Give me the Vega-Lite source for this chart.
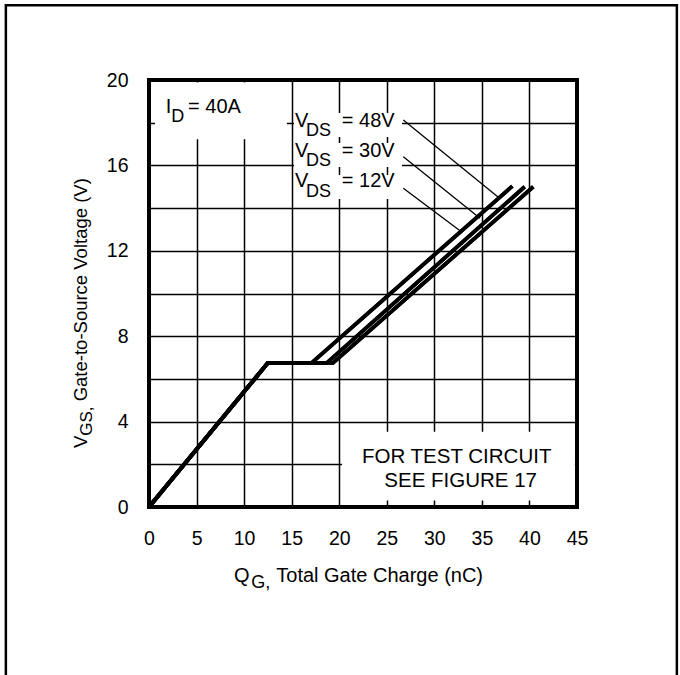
{
  "$schema": "https://vega.github.io/schema/vega-lite/v6.json",
  "width": 428,
  "height": 427,
  "autosize": {"type": "none"},
  "padding": {"left": 149, "top": 80, "right": 103, "bottom": 168},
  "background": "white",
  "config": {
    "view": {"stroke": "black", "strokeWidth": 4},
    "font": "Liberation Sans",
    "text": {"font": "Liberation Sans", "color": "black"}
  },
  "datasets": {
    "curves": [
      {"series": "48V", "q": 0, "v": 0}, {"series": "48V", "q": 12.5, "v": 6.75}, {"series": "48V", "q": 17.1, "v": 6.75}, {"series": "48V", "q": 38.2, "v": 15.03},
      {"series": "30V", "q": 0, "v": 0}, {"series": "30V", "q": 12.5, "v": 6.75}, {"series": "30V", "q": 18.7, "v": 6.75}, {"series": "30V", "q": 39.5, "v": 15.0},
      {"series": "12V", "q": 0, "v": 0}, {"series": "12V", "q": 12.5, "v": 6.75}, {"series": "12V", "q": 19.35, "v": 6.75}, {"series": "12V", "q": 40.4, "v": 15.0}
    ],
    "leaders": [
      {"series": "48V", "q": 26.74, "v": 18.13, "q2": 36.73, "v2": 14.51},
      {"series": "30V", "q": 26.74, "v": 16.41, "q2": 34.8, "v2": 13.52},
      {"series": "12V", "q": 26.74, "v": 14.93, "q2": 32.7, "v2": 12.94}
    ],
    "masks": [
      {"name": "id", "q": 0.63, "q2": 14.5, "v": 17.22, "v2": 19.88},
      {"name": "vds48", "q": 15.25, "q2": 26.6, "v": 17.33, "v2": 18.45},
      {"name": "vds30", "q": 15.25, "q2": 26.6, "v": 15.93, "v2": 17.05},
      {"name": "vds12", "q": 15.25, "q2": 26.6, "v": 14.43, "v2": 15.55},
      {"name": "circuit", "q": 20.3, "q2": 44.77, "v": 0.3, "v2": 3.53}
    ],
    "frame": [
      {"q": -15.05, "q2": 55.5, "v": 23.5, "v2": -8.5}
    ],
    "texts": [
      {"kind": "main", "t": "I", "q": 1.75, "v": 18.44},
      {"kind": "main", "t": "= 40A", "q": 4.11, "v": 18.44},
      {"kind": "main", "t": "V", "q": 15.35, "v": 17.81},
      {"kind": "main", "t": "= 48V", "q": 20.27, "v": 17.81},
      {"kind": "main", "t": "V", "q": 15.35, "v": 16.41},
      {"kind": "main", "t": "= 30V", "q": 20.27, "v": 16.41},
      {"kind": "main", "t": "V", "q": 15.35, "v": 14.97},
      {"kind": "main", "t": "= 12V", "q": 20.27, "v": 14.97},
      {"kind": "main", "t": "Q", "q": 8.94, "v": -3.5},
      {"kind": "main", "t": "Total Gate Charge (nC)", "q": 13.38, "v": -3.5},
      {"kind": "sub", "t": "D", "q": 2.34, "v": 18.05},
      {"kind": "sub", "t": "DS", "q": 16.5, "v": 17.38},
      {"kind": "sub", "t": "DS", "q": 16.5, "v": 15.97},
      {"kind": "sub", "t": "DS", "q": 16.5, "v": 14.53},
      {"kind": "sub", "t": "G,", "q": 10.75, "v": -3.81},
      {"kind": "center", "t": "FOR TEST CIRCUIT", "q": 32.35, "v": 2.05},
      {"kind": "center", "t": "SEE FIGURE 17", "q": 32.77, "v": 0.95},
      {"kind": "vmain", "t": "V", "q": -6.52, "v": 2.76},
      {"kind": "vmain", "t": "Gate-to-Source Voltage (V)", "q": -6.52, "v": 4.95},
      {"kind": "vsub", "t": "GS,", "q": -5.99, "v": 3.34}
    ]
  },
  "layer": [
    {
      "data": {"name": "curves"},
      "mark": {"type": "line", "color": "black", "strokeWidth": 3.8, "strokeCap": "butt", "strokeJoin": "miter"},
      "encoding": {
        "x": {
          "field": "q", "type": "quantitative",
          "scale": {"domain": [0, 45], "nice": false, "zero": false},
          "axis": {
            "values": [0, 5, 10, 15, 20, 25, 30, 35, 40, 45],
            "grid": true, "gridColor": "black", "gridWidth": 1.5, "gridOpacity": 1,
            "ticks": false, "domain": false, "title": null,
            "labelFontSize": 19.5, "labelColor": "black", "labelFont": "Liberation Sans",
            "labelPadding": 22, "labelFlush": false, "labelOverlap": false
          }
        },
        "y": {
          "field": "v", "type": "quantitative",
          "scale": {"domain": [0, 20], "nice": false, "zero": false},
          "axis": {
            "values": [0, 2, 4, 6, 8, 10, 12, 14, 16, 18, 20],
            "labelExpr": "datum.value % 4 === 0 ? datum.label : ''",
            "grid": true, "gridColor": "black", "gridWidth": 1.5, "gridOpacity": 1,
            "ticks": false, "domain": false, "title": null,
            "labelFontSize": 19.5, "labelColor": "black", "labelFont": "Liberation Sans",
            "labelPadding": 21, "labelFlush": false, "labelOverlap": false
          }
        },
        "detail": {"field": "series"}
      }
    },
    {
      "data": {"name": "frame"},
      "mark": {"type": "rect", "fill": null, "stroke": "black", "strokeWidth": 2.5, "clip": false},
      "encoding": {
        "x": {"field": "q", "type": "quantitative"},
        "x2": {"field": "q2"},
        "y": {"field": "v", "type": "quantitative"},
        "y2": {"field": "v2"}
      }
    },
    {
      "data": {"name": "masks"},
      "mark": {"type": "rect", "fill": "white", "stroke": null},
      "encoding": {
        "x": {"field": "q", "type": "quantitative"},
        "x2": {"field": "q2"},
        "y": {"field": "v", "type": "quantitative"},
        "y2": {"field": "v2"}
      }
    },
    {
      "data": {"name": "curves"},
      "mark": {"type": "line", "color": "black", "strokeWidth": 3.8, "strokeCap": "butt", "strokeJoin": "miter"},
      "encoding": {
        "x": {"field": "q", "type": "quantitative"},
        "y": {"field": "v", "type": "quantitative"},
        "detail": {"field": "series"}
      }
    },
    {
      "data": {"name": "leaders"},
      "mark": {"type": "rule", "color": "black", "strokeWidth": 1.3},
      "encoding": {
        "x": {"field": "q", "type": "quantitative"},
        "x2": {"field": "q2"},
        "y": {"field": "v", "type": "quantitative"},
        "y2": {"field": "v2"}
      }
    },
    {
      "data": {"name": "texts"},
      "transform": [{"filter": "datum.kind === 'main'"}],
      "mark": {"type": "text", "align": "left", "baseline": "alphabetic", "fontSize": 20, "color": "black", "clip": false},
      "encoding": {
        "x": {"field": "q", "type": "quantitative"},
        "y": {"field": "v", "type": "quantitative"},
        "text": {"field": "t"}
      }
    },
    {
      "data": {"name": "texts"},
      "transform": [{"filter": "datum.kind === 'sub'"}],
      "mark": {"type": "text", "align": "left", "baseline": "alphabetic", "fontSize": 18, "color": "black", "clip": false},
      "encoding": {
        "x": {"field": "q", "type": "quantitative"},
        "y": {"field": "v", "type": "quantitative"},
        "text": {"field": "t"}
      }
    },
    {
      "data": {"name": "texts"},
      "transform": [{"filter": "datum.kind === 'center'"}],
      "mark": {"type": "text", "align": "center", "baseline": "alphabetic", "fontSize": 20.5, "color": "black", "clip": false},
      "encoding": {
        "x": {"field": "q", "type": "quantitative"},
        "y": {"field": "v", "type": "quantitative"},
        "text": {"field": "t"}
      }
    },
    {
      "data": {"name": "texts"},
      "transform": [{"filter": "datum.kind === 'vmain'"}],
      "mark": {"type": "text", "align": "left", "baseline": "alphabetic", "fontSize": 18.5, "angle": 270, "color": "black", "clip": false},
      "encoding": {
        "x": {"field": "q", "type": "quantitative"},
        "y": {"field": "v", "type": "quantitative"},
        "text": {"field": "t"}
      }
    },
    {
      "data": {"name": "texts"},
      "transform": [{"filter": "datum.kind === 'vsub'"}],
      "mark": {"type": "text", "align": "left", "baseline": "alphabetic", "fontSize": 17, "angle": 270, "color": "black", "clip": false},
      "encoding": {
        "x": {"field": "q", "type": "quantitative"},
        "y": {"field": "v", "type": "quantitative"},
        "text": {"field": "t"}
      }
    }
  ]
}
